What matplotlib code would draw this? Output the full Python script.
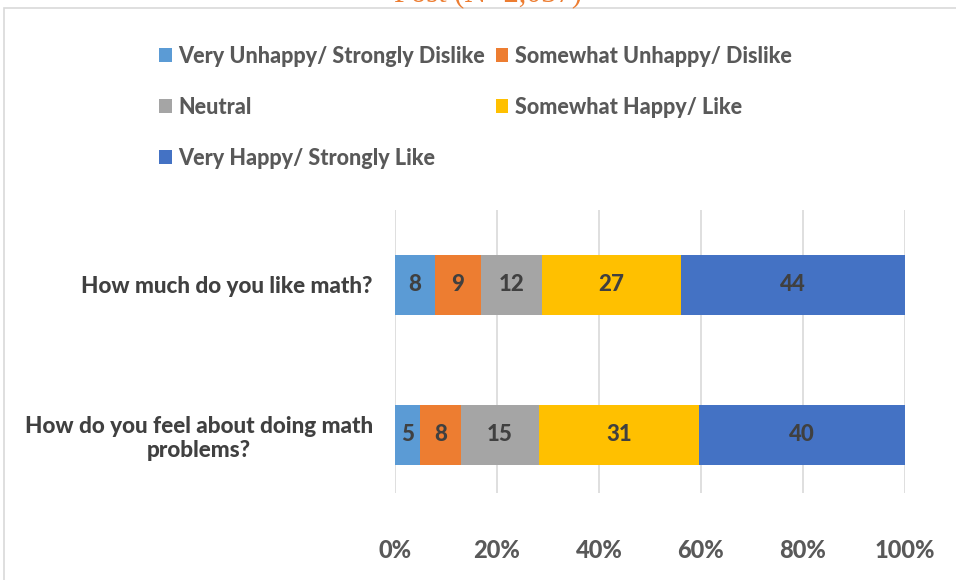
import matplotlib.pyplot as plt
from matplotlib.patches import Rectangle

# Dados (percentuais; rótulos mostram valores arredondados)
perguntas = ['How do you feel about doing math\nproblems?', 'How much do you like math?']
categorias = ['Very Unhappy/ Strongly Dislike', 'Somewhat Unhappy/ Dislike', 'Neutral',
              'Somewhat Happy/ Like', 'Very Happy/ Strongly Like']
muito_infeliz = [4.9, 7.8]
pouco_infeliz = [8.1, 9.1]
neutro = [15.2, 12.0]
pouco_feliz = [31.4, 27.1]
muito_feliz = [40.4, 44.0]
cores = ['#5B9BD5', '#ED7D31', '#A5A5A5', '#FFC000', '#4472C4']
ticks = [0, 20, 40, 60, 80, 100]
titulo = 'Post (N=2,037)'

peso = 900
plt.rcParams['font.family'] = ['Lato', 'DejaVu Sans']
plt.rcParams['font.weight'] = peso

fig = plt.figure(figsize=(9.56, 5.8), dpi=100)
ax = fig.add_axes([395 / 956, 0.15, 510 / 956, 0.488])

# Moldura do gráfico
fig.patches.append(Rectangle((4 / 956, -0.1), 1.2, (1 - 8 / 580) + 0.1, transform=fig.transFigure,
                             fill=False, edgecolor='#D9D9D9', linewidth=1.2))

series = [muito_infeliz, pouco_infeliz, neutro, pouco_feliz, muito_feliz]
esquerda = [0, 0]
y = [0, 1]
handles = []
for serie, cor, nome in zip(series, cores, categorias):
    barras = ax.barh(y, serie, left=esquerda, height=0.4, color=cor, label=nome, zorder=3)
    handles.append(barras)
    for b, v in zip(barras, serie):
        ax.text(b.get_x() + b.get_width() / 2, b.get_y() + b.get_height() / 2, f'{v:.0f}',
                ha='center', va='center', fontsize=16, color='#404040', fontweight=peso, zorder=4)
    esquerda = [e + s for e, s in zip(esquerda, serie)]

ax.set_xlim(0, 100)
ax.set_ylim(-0.387, 1.5)
ax.set_xticks(ticks)
ax.set_xticklabels([f'{t}%' for t in ticks], fontsize=17, color='#595959', fontweight=peso)
ax.set_yticks(y)
ax.set_yticklabels(perguntas, fontsize=16.2, color='#404040', fontweight=peso,
                   multialignment='center', linespacing=1.2)
ax.tick_params(axis='x', length=0, pad=33)
ax.tick_params(axis='y', length=0, pad=16)
for s in ax.spines.values():
    s.set_visible(False)
ax.grid(axis='x', color='#D9D9D9', linewidth=1.2, zorder=0)

# Legenda em linhas (matplotlib preenche por coluna)
ordem = [0, 2, 4, 1, 3]
fig.legend([handles[i] for i in ordem], [categorias[i] for i in ordem],
           loc='upper left', bbox_to_anchor=(150 / 956, 1 - 37 / 580), ncol=2, frameon=False,
           fontsize=15.5, labelcolor='#595959', handlelength=0.6, handleheight=0.6, handletextpad=0.3,
           columnspacing=0.5, labelspacing=1.4, borderaxespad=0)

fig.text(0.51, 1 - 1 / 580, titulo, ha='center', va='baseline', fontsize=22,
         color='#ED7D31', family='Liberation Serif', fontweight='normal')

fig.savefig('out.png', dpi=100)
